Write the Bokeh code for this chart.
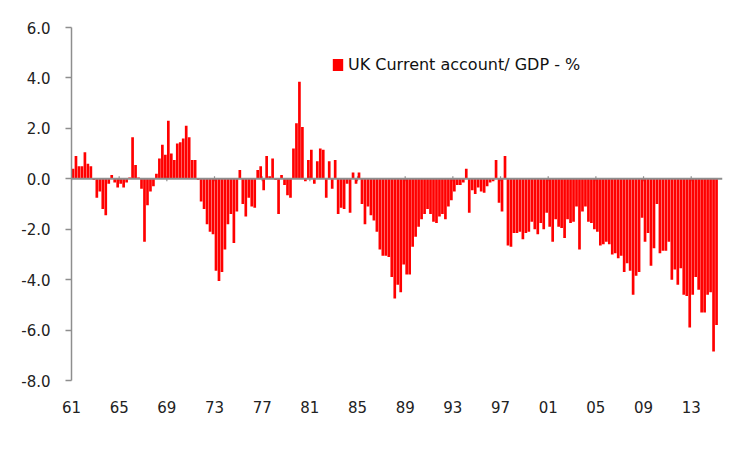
from bokeh.plotting import figure
from bokeh.models import (Range1d, FixedTicker, Span, Legend, LegendItem,
                          LinearAxis, PrintfTickFormatter, ColumnDataSource)
from bokeh.embed import file_html
from bokeh.resources import INLINE

# UK current account balance, % of GDP, quarterly 1961Q1 - 2015Q1
first_year = 1961
ca_gdp = [
    0.4, 0.9, 0.5, 0.5, 1.05, 0.6, 0.5, -0.05,
    -0.75, -0.5, -1.2, -1.45, -0.2, 0.15, -0.15, -0.35,
    -0.2, -0.35, -0.15, 0.05, 1.65, 0.55, 0.05, -0.4,
    -2.5, -1.05, -0.5, -0.3, 0.2, 0.8, 1.35, 0.95,
    2.3, 1.0, 0.75, 1.4, 1.45, 1.6, 2.1, 1.65,
    0.75, 0.75, -0.05, -0.9, -1.2, -1.8, -2.1, -2.2,
    -3.65, -4.05, -3.7, -2.8, -1.8, -1.4, -2.55, -1.3,
    0.35, -1.0, -1.5, -0.75, -1.1, -1.15, 0.35, 0.5,
    -0.45, 0.9, 0.1, 0.8, -0.05, -1.4, 0.15, -0.25,
    -0.65, -0.75, 1.2, 2.2, 3.85, 2.05, -0.1, 0.75,
    1.15, -0.2, 0.7, 1.2, 1.15, -0.75, 0.7, -0.4,
    0.75, -1.4, -1.15, -1.2, -0.2, -1.35, 0.25, -0.2,
    0.25, -1.0, -1.8, -1.1, -1.45, -1.65, -2.1, -2.8,
    -3.05, -3.05, -3.1, -3.9, -4.75, -4.2, -4.5, -3.4,
    -3.8, -3.8, -2.7, -2.3, -1.9, -1.6, -1.4, -1.2,
    -1.4, -1.7, -1.75, -1.5, -1.4, -1.6, -1.1, -0.85,
    -0.5, -0.25, -0.25, -0.15, 0.4, -1.35, -0.45, -0.6,
    -0.35, -0.5, -0.55, -0.3, -0.15, -0.1, 0.75, -0.95,
    -1.3, 0.9, -2.65, -2.7, -2.15, -2.15, -2.1, -2.4,
    -2.15, -2.1, -1.7, -2.0, -2.2, -1.75, -2.0, -1.35,
    -1.9, -2.5, -1.6, -1.9, -1.95, -2.35, -1.6, -1.75,
    -1.7, -1.1, -2.8, -1.3, -1.1, -1.7, -1.75, -2.0,
    -2.1, -2.65, -2.6, -2.5, -2.6, -3.0, -2.95, -3.15,
    -3.05, -3.7, -3.35, -3.65, -4.6, -3.85, -3.7, -1.55,
    -2.5, -2.15, -3.45, -2.75, -1.0, -2.95, -2.85, -2.85,
    -2.5, -4.0, -3.6, -4.2, -3.55, -4.6, -4.65, -5.9,
    -4.6, -3.9, -4.4, -5.3, -5.3, -4.6, -4.5, -6.85,
    -5.8,
]
quarters = [f"{first_year + i // 4}Q{i % 4 + 1}" for i in range(len(ca_gdp))]
label_years = [1961, 1965, 1969, 1973, 1977, 1981, 1985, 1989, 1993, 1997,
               2001, 2005, 2009, 2013]
x_tick_labels = ["61", "65", "69", "73", "77", "81", "85", "89", "93", "97",
                 "01", "05", "09", "13"]
y_ticks = [-8, -6, -4, -2, 0, 2, 4, 6]
series_name = "UK Current account/ GDP - %"

tick_pos = [(y - first_year) * 4 for y in label_years]
src = ColumnDataSource(dict(
    x=[i + 0.5 for i in range(len(ca_gdp))],
    top=ca_gdp,
    q=quarters,
))

p = figure(width=740, height=440, output_backend="svg", toolbar_location=None,
           x_range=Range1d(0, 218.5), y_range=Range1d(-8, 6),
           min_border_left=71, min_border_right=18, min_border_top=27,
           min_border_bottom=60, x_axis_location=None, y_axis_location=None)
p.outline_line_color = None
p.xgrid.visible = False
p.ygrid.visible = False
p.background_fill_color = "white"
p.border_fill_color = "white"

AX = "#8e8e8e"
FONT = "DejaVu Sans"

# small category tick marks on the zero axis line
p.segment(x0=tick_pos, x1=tick_pos, y0=[-0.1] * len(tick_pos), y1=[0.1] * len(tick_pos),
          line_color=AX, line_width=1.2)

bars = p.vbar(x="x", top="top", bottom=0, width=0.9, source=src,
              fill_color="#ff0000", line_color=None)

p.add_layout(Span(location=0, dimension="width", line_color=AX, line_width=2))

yax = LinearAxis(ticker=FixedTicker(ticks=y_ticks),
                 formatter=PrintfTickFormatter(format="%.1f"))
yax.axis_line_color = AX
yax.axis_line_width = 1.5
yax.major_tick_line_color = AX
yax.major_tick_line_width = 1.5
yax.major_tick_out = 6
yax.major_tick_in = 0
yax.minor_tick_line_color = None
yax.major_label_standoff = 15
yax.major_label_text_font = FONT
yax.major_label_text_font_size = "15px"
yax.major_label_text_color = "#222222"
p.add_layout(yax, "left")

xax = LinearAxis(ticker=FixedTicker(ticks=tick_pos),
                 major_label_overrides={t: l for t, l in zip(tick_pos, x_tick_labels)})
xax.axis_line_color = None
xax.major_tick_line_color = None
xax.minor_tick_line_color = None
xax.major_tick_out = 0
xax.major_tick_in = 0
xax.major_label_standoff = 20
xax.major_label_text_font = FONT
xax.major_label_text_font_size = "15px"
xax.major_label_text_color = "#222222"
p.add_layout(xax, "below")

legend = Legend(items=[LegendItem(label=series_name, renderers=[bars])],
                location=(260, 306), orientation="vertical")
legend.glyph_width = 13
legend.glyph_height = 15
legend.label_standoff = 4
legend.padding = 0
legend.margin = 0
legend.spacing = 0
legend.border_line_color = None
legend.background_fill_alpha = 0
legend.label_text_font = FONT
legend.label_text_font_size = "16px"
legend.label_text_color = "#111111"
legend.label_height = 15
p.add_layout(legend, "center")

open("out.html", "w").write(file_html(p, INLINE))
